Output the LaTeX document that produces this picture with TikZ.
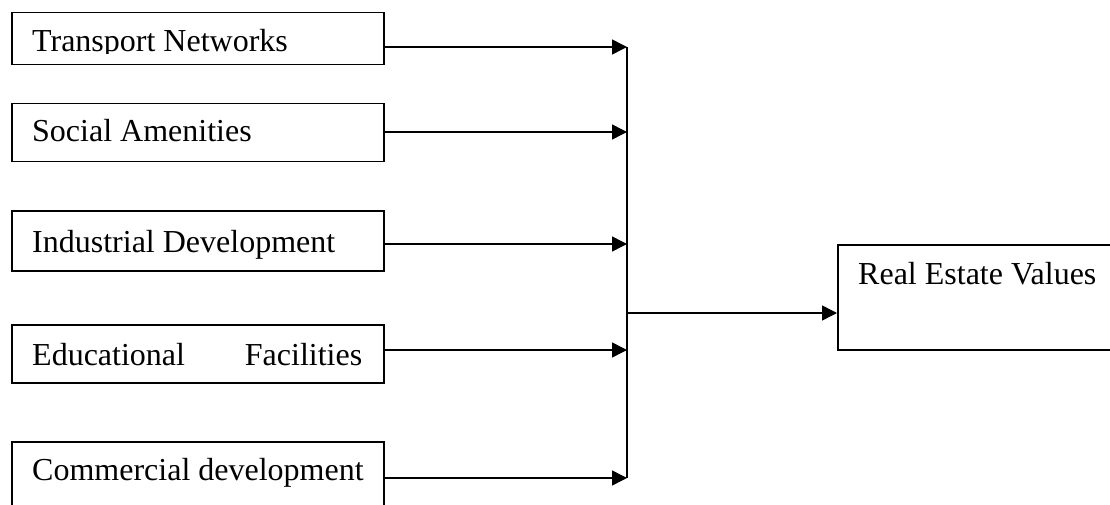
\documentclass[tikz,border=0pt]{standalone}
\usepackage{fontspec}
\setmainfont{Liberation Serif}
\usetikzlibrary{arrows.meta}
\begin{document}
\begin{tikzpicture}[x=1pt,y=-1pt,
  factor/.style={draw=black, line width=1.5pt, rectangle, inner sep=0pt, anchor=north west},
  label/.style={anchor=base west, inner sep=0pt, font=\fontsize{32}{38}\selectfont},
  conn/.style={line width=1.5pt, -{Triangle[length=15pt,width=15pt]}},
  bus/.style={line width=1.5pt}]
\useasboundingbox (0,0) rectangle (1110,505);
\clip (0,0) rectangle (1110,505);
% boxes
\node[factor, minimum width=372pt, minimum height=52pt] (b1) at (11,12) {};
\node[factor, minimum width=372pt, minimum height=58pt] (b2) at (11,103) {};
\node[factor, minimum width=372pt, minimum height=60pt] (b3) at (11,210) {};
\node[factor, minimum width=372pt, minimum height=58pt] (b4) at (11,324) {};
\node[factor, minimum width=372pt, minimum height=90pt] (b5) at (11,441) {};
\node[factor, minimum width=300pt, minimum height=105pt] (re) at (837,244) {};
% labels
\begin{scope}
\clip (11,12) rectangle (383,53.5);
\node[label] (t1) at (32,52) {Transport Networks};
\end{scope}
\node[label] (t2) at (32,142) {Social Amenities};
\node[label] (t3) at (32,252) {Industrial Development};
\node[label] (t4) at (32,365) {\hbox to 330pt{Educational\hfill Facilities}};
\node[label] (t5) at (32,480) {Commercial development};
\node[label] (tr) at (858,284) {Real Estate Values};
% junction points on the bus
\coordinate (j1) at (627,47);
\coordinate (j2) at (627,132);
\coordinate (j3) at (627,244);
\coordinate (j4) at (627,350);
\coordinate (j5) at (627,478);
\coordinate (jm) at (627,313);
% connectors
\draw[conn] (b1.east |- j1) -- (j1);
\draw[conn] (b2.east |- j2) -- (j2);
\draw[conn] (b3.east |- j3) -- (j3);
\draw[conn] (b4.east |- j4) -- (j4);
\draw[conn] (b5.east |- j5) -- (j5);
\draw[bus] (j1) -- (j5);
\draw[conn] (jm) -- (re.west |- jm);
\end{tikzpicture}
\end{document}
